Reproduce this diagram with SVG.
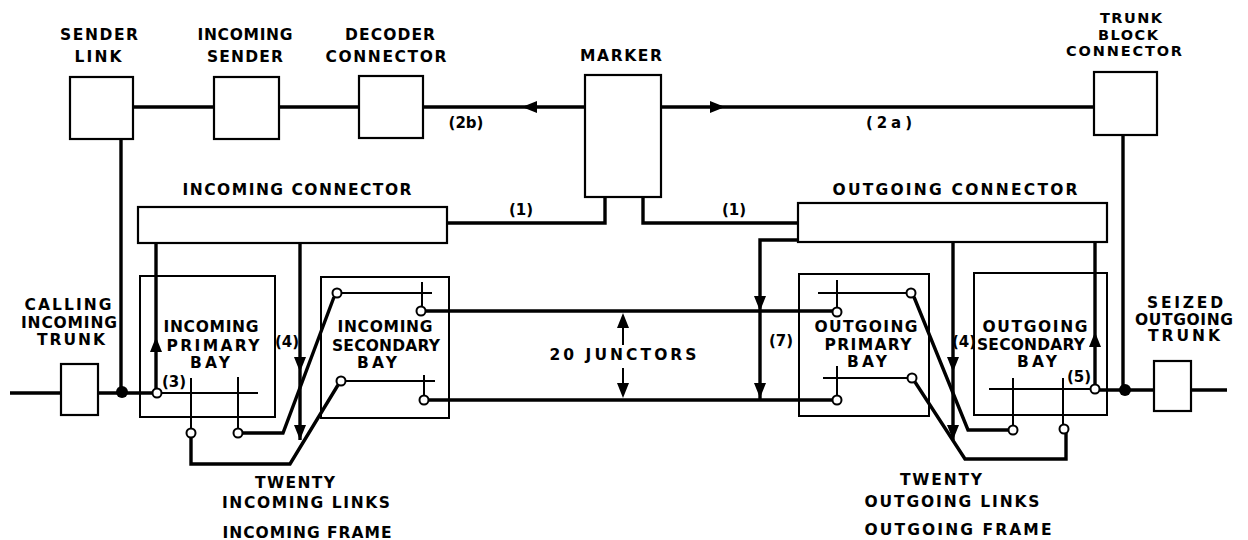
<svg xmlns="http://www.w3.org/2000/svg" xmlns:xlink="http://www.w3.org/1999/xlink" width="1248" height="540" viewBox="0 0 1248 540">
<style>
.box{fill:#fff;stroke:#000;stroke-width:2.2}
.bay{fill:none;stroke:#000;stroke-width:2}
.w{fill:none;stroke:#000;stroke-width:3.4;stroke-linejoin:miter}
.t{fill:none;stroke:#000;stroke-width:2}
.c{fill:#fff;stroke:#000;stroke-width:2}
.dot{fill:#000}
.ah{fill:#000}
text{font-family:"DejaVu Sans","Liberation Sans",sans-serif;font-weight:bold;fill:#000;text-anchor:middle}
.lb{font-size:15.5px}
.tb{font-size:14.5px}
.sm{font-size:15px}
</style>
<defs>
<path id="ah" class="ah" d="M0,0 L-15,-6 L-15,6 Z"/>
</defs>
<rect x="0" y="0" width="1248" height="540" fill="#fff"/>

<g id="connectors">
<path class="w" d="M133,107 H214 M279,107 H359 M423,107 H585 M661,107 H1094"/>
<use xlink:href="#ah" transform="translate(522,107) rotate(180)"/>
<use xlink:href="#ah" transform="translate(725,107)"/>
<path class="w" d="M121,139 V392 M1123,135 V390"/>
<path class="w" d="M447,223 H605 V197 M643,197 V223 H798"/>
<path class="w" d="M156,243 V389"/>
<use xlink:href="#ah" transform="translate(156,337) rotate(-90)"/>
<path class="w" d="M300,243 V440"/>
<use xlink:href="#ah" transform="translate(300,372) rotate(90)"/>
<use xlink:href="#ah" transform="translate(300,440) rotate(90)"/>
<path class="w" d="M953,242 V440"/>
<use xlink:href="#ah" transform="translate(953,372) rotate(90)"/>
<use xlink:href="#ah" transform="translate(953,440) rotate(90)"/>
<path class="w" d="M1095,242 V385"/>
<use xlink:href="#ah" transform="translate(1095,332) rotate(-90)"/>
<path class="w" d="M798,240 H760 V400"/>
<use xlink:href="#ah" transform="translate(760,311) rotate(90)"/>
<use xlink:href="#ah" transform="translate(760,398) rotate(90)"/>
<path class="w" d="M425,311 H833 M428,400 H833"/>
<path class="t" d="M623,345 V320 M623,368 V390"/>
<use xlink:href="#ah" transform="translate(623,313) rotate(-90)"/>
<use xlink:href="#ah" transform="translate(623,398) rotate(90)"/>
<path class="w" d="M10,393 H61 M98,393 H152"/>
<path class="w" d="M1099,390 H1154 M1191,390 H1227"/>
<path class="w" d="M242,433 H283 L334,297"/>
<path class="w" d="M191,437 V464 H290 L338,385"/>
<path class="w" d="M914,297 L968,430 H1009"/>
<path class="w" d="M915,382 L965,459 H1066 V433"/>
</g>

<g id="sender-link"><rect class="box" x="70" y="77" width="63" height="62"/></g>
<g id="incoming-sender"><rect class="box" x="214" y="77" width="65" height="62"/></g>
<g id="decoder-connector"><rect class="box" x="359" y="76" width="64" height="62"/></g>
<g id="marker"><rect class="box" x="585" y="75" width="76" height="122"/></g>
<g id="trunk-block-connector"><rect class="box" x="1094" y="72" width="63" height="63"/></g>
<g id="incoming-connector"><rect class="box" x="138" y="207" width="309" height="36"/></g>
<g id="outgoing-connector"><rect class="box" x="798" y="203" width="309" height="39"/></g>

<g id="calling-incoming-trunk">
<rect class="box" x="61" y="364" width="37" height="51"/>
<circle class="dot" cx="122" cy="392" r="6"/>
</g>
<g id="seized-outgoing-trunk">
<rect class="box" x="1154" y="361" width="37" height="50"/>
<circle class="dot" cx="1125" cy="390" r="6"/>
</g>

<g id="incoming-primary-bay">
<rect class="bay" x="140" y="276" width="135" height="141"/>
<path class="t" d="M161,393 H258 M191,378 V429 M238,377 V429"/>
<circle class="c" cx="157" cy="393" r="4.5"/>
<circle class="c" cx="191" cy="433" r="4.5"/>
<circle class="c" cx="238" cy="433" r="4.5"/>
</g>
<g id="incoming-secondary-bay">
<rect class="bay" x="321" y="277" width="128" height="141"/>
<path class="t" d="M341,293 H432 M422,282 V307 M345,381 H435 M424,375 V396"/>
<circle class="c" cx="337" cy="293" r="4.5"/>
<circle class="c" cx="421" cy="311" r="4.5"/>
<circle class="c" cx="341" cy="381" r="4.5"/>
<circle class="c" cx="424" cy="400" r="4.5"/>
</g>
<g id="outgoing-primary-bay">
<rect class="bay" x="799" y="274" width="130" height="142"/>
<path class="t" d="M818,293 H907 M837,280 V308 M823,378 H908 M837,366 V396"/>
<circle class="c" cx="837" cy="312" r="4.5"/>
<circle class="c" cx="911" cy="293" r="4.5"/>
<circle class="c" cx="837" cy="400" r="4.5"/>
<circle class="c" cx="912" cy="378" r="4.5"/>
</g>
<g id="outgoing-secondary-bay">
<rect class="bay" x="974" y="273" width="133" height="142"/>
<path class="t" d="M989,389 H1091 M1013,378 V426 M1063,378 V425"/>
<circle class="c" cx="1013" cy="430" r="4.5"/>
<circle class="c" cx="1064" cy="429" r="4.5"/>
<circle class="c" cx="1095" cy="389" r="4.5"/>
</g>

<g id="labels">
<text class="lb" x="99" y="40" textLength="78">SENDER</text>
<text class="lb" x="98" y="62" textLength="47">LINK</text>
<text class="lb" x="245" y="40" textLength="95">INCOMING</text>
<text class="lb" x="245" y="62" textLength="76">SENDER</text>
<text class="lb" x="390" y="40" textLength="90">DECODER</text>
<text class="lb" x="386" y="62" textLength="121">CONNECTOR</text>
<text class="lb" x="621" y="61" textLength="82">MARKER</text>
<text class="tb" x="1131" y="23" textLength="62">TRUNK</text>
<text class="tb" x="1128" y="39.5" textLength="60">BLOCK</text>
<text class="tb" x="1124" y="56" textLength="116">CONNECTOR</text>
<text class="sm" x="466" y="128">(2b)</text>
<text class="sm" x="889" y="128" textLength="46">(2a)</text>
<text class="lb" x="297" y="195" textLength="229">INCOMING CONNECTOR</text>
<text class="lb" x="955" y="195" textLength="245">OUTGOING CONNECTOR</text>
<text class="sm" x="521" y="215">(1)</text>
<text class="sm" x="734" y="215">(1)</text>
<text class="lb" x="68" y="310" textLength="87">CALLING</text>
<text class="lb" x="69" y="328" textLength="96">INCOMING</text>
<text class="lb" x="71" y="345" textLength="68">TRUNK</text>
<text class="lb" x="211" y="332" textLength="95">INCOMING</text>
<text class="lb" x="213" y="351" textLength="93">PRIMARY</text>
<text class="lb" x="210" y="368" textLength="40">BAY</text>
<text class="lb" x="385" y="332" textLength="95">INCOMING</text>
<text class="lb" x="386" y="351" textLength="108">SECONDARY</text>
<text class="lb" x="377" y="368" textLength="40">BAY</text>
<text class="sm" x="287" y="347">(4)</text>
<text class="sm" x="174" y="387">(3)</text>
<text class="lb" x="623" y="360" textLength="147">20 JUNCTORS</text>
<text class="sm" x="781" y="346">(7)</text>
<text class="lb" x="866" y="332" textLength="103">OUTGOING</text>
<text class="lb" x="868" y="350" textLength="87">PRIMARY</text>
<text class="lb" x="867" y="367" textLength="40">BAY</text>
<text class="lb" x="1035" y="332" textLength="105">OUTGOING</text>
<text class="lb" x="1031" y="350" textLength="108">SECONDARY</text>
<text class="lb" x="1037" y="367" textLength="40">BAY</text>
<text class="sm" x="964" y="347">(4)</text>
<text class="sm" x="1079" y="382">(5)</text>
<text class="lb" x="1185" y="308" textLength="76">SEIZED</text>
<text class="lb" x="1184" y="325" textLength="98">OUTGOING</text>
<text class="lb" x="1184" y="341" textLength="72">TRUNK</text>
<text class="lb" x="295" y="488" textLength="80">TWENTY</text>
<text class="lb" x="306" y="508" textLength="168">INCOMING LINKS</text>
<text class="lb" x="307" y="538" textLength="169">INCOMING FRAME</text>
<text class="lb" x="941" y="485" textLength="82">TWENTY</text>
<text class="lb" x="952" y="507" textLength="175">OUTGOING LINKS</text>
<text class="lb" x="958" y="535" textLength="187">OUTGOING FRAME</text>
</g>
</svg>
